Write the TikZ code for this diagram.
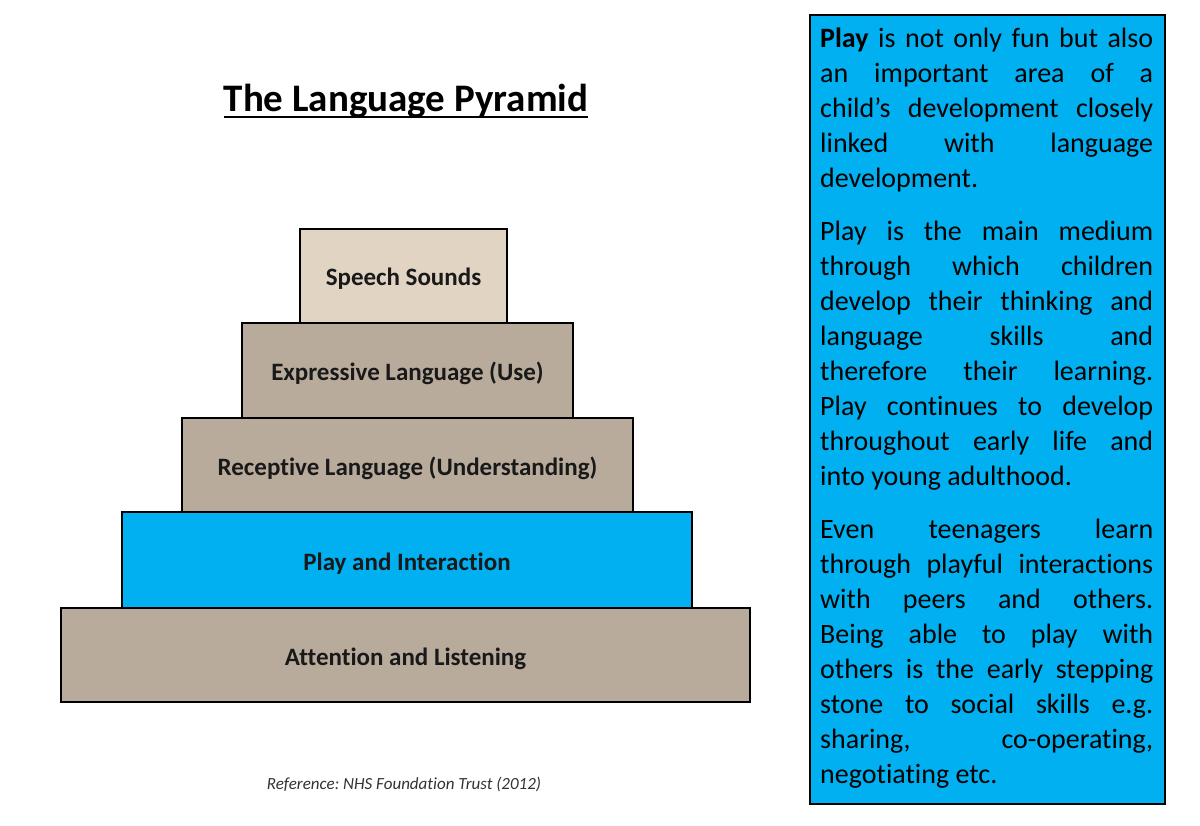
\documentclass[tikz,border=0pt]{standalone}
\usepackage{fontspec}
\setmainfont[Ligatures=NoCommon]{Carlito}
\frenchspacing
\definecolor{skyblue}{HTML}{00B0F0}
\definecolor{sandtop}{HTML}{E1D4C3}
\definecolor{stone}{HTML}{B8AB9B}
\tikzset{
    layer/.style={draw=black, line width=2pt, inner sep=0pt, text=black!90,
        text height=24pt, text depth=4pt,
        font=\fontsize{25}{30}\selectfont\bfseries},
}
\begin{document}
\begin{tikzpicture}[x=1pt, y=-1pt]
    % Page frame
    \useasboundingbox (0,0) rectangle (1200,826);

    % Title with its underline
    \node[anchor=base, inner sep=0pt, font=\fontsize{39}{47}\selectfont\bfseries] (title) at (406,112) {The Language Pyramid};
    \draw[line width=2.5pt] ([yshift=-5pt]title.base west) -- ([yshift=-5pt]title.base east);

    % The five layers, from top to bottom: name/left/right/top/bottom/fill/label
    \foreach \nm/\xl/\xr/\yt/\yb/\fc/\txt in {
        speech/300/507/229/323/sandtop/{Speech Sounds},
        expressive/242/573/323/418/stone/{Expressive Language (Use)},
        receptive/182/633/418/512/stone/{Receptive Language (Understanding)},
        play/122/692/512/608/skyblue/{Play and Interaction},
        attention/61/750/608/702/stone/{Attention and Listening}} {
        \node[layer, fill=\fc, minimum width={(\xr-\xl)*1pt}, minimum height={(\yb-\yt)*1pt}]
            (\nm) at ({(\xl+\xr)/2},{(\yt+\yb)/2}) {\txt};
    }

    % Source line
    \node[anchor=base, inner sep=0pt, text=black!80, font=\fontsize{17}{20}\selectfont\itshape] (source) at (404,789) {Reference: NHS Foundation Trust (2012)};

    % Blue side panel
    \node[draw=black, line width=2pt, fill=skyblue, minimum width=355pt, minimum height=789pt, inner sep=0pt] (panel) at (987.5,409.5) {};
    \node[anchor=base west, inner sep=0pt, text width=333pt, align=justify, font=\fontsize{28}{35}\selectfont] (paneltext) at (820,48) {%
        \setlength{\parskip}{18pt}\hyphenpenalty=10000\exhyphenpenalty=10000
        \textbf{Play} is not only fun but also\linebreak
        an important area of a\linebreak
        child’s development closely\linebreak
        linked with language\linebreak
        development.\par
        Play is the main medium\linebreak
        through which children\linebreak
        develop their thinking and\linebreak
        language skills and\linebreak
        therefore their learning.\linebreak
        Play continues to develop\linebreak
        throughout early life and\linebreak
        into young adulthood.\par
        Even teenagers learn\linebreak
        through playful interactions\linebreak
        with peers and others.\linebreak
        Being able to play with\linebreak
        others is the early stepping\linebreak
        stone to social skills e.g.\linebreak
        sharing, co-operating,\linebreak
        negotiating etc.};
\end{tikzpicture}
\end{document}
